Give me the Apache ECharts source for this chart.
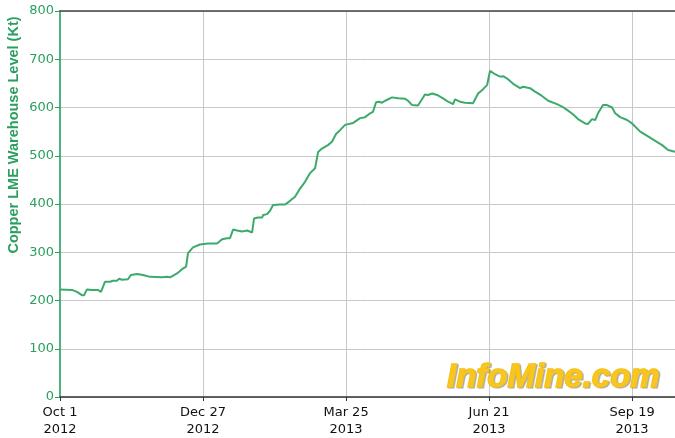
<!DOCTYPE html>
<html lang="en">

<head>
  <meta charset="UTF-8">
  <title>Copper LME Warehouse Level</title>
  <style>
    html, body { margin: 0; padding: 0; background: #fff; }
  </style>
</head>

<body>
  <div id="main" style="width: 675px;height:438px;"></div>
  <script src="https://cdn.jsdelivr.net/npm/echarts@6/dist/echarts.min.js"></script>
  <script>
    // x in trading-day units, a tick every 60
    const days = [0, 5.0, 7.1, 9.2, 10.1, 11.3, 11.7, 13.4, 15.9, 17.2, 18.9, 21.0, 22.2, 23.9, 24.8, 26.0,
      28.5, 29.8, 32.3, 34.8, 37.8, 42.8, 44.9, 46.2, 49.1, 51.2, 52.9, 53.7, 55.8, 58.7, 62.1, 65.9,
      68.0, 70.1, 71.3, 72.6, 74.3, 76.4, 78.5, 80.6, 81.4, 83.1, 84.8, 85.2, 86.9, 88.1, 89.4, 92.3,
      94.4, 96.1, 98.6, 100.7, 102.8, 104.9, 107.0, 108.3, 109.9, 112.4, 114.1, 115.8, 117.5, 119.6,
      123.0, 125.9, 128.0, 130.1, 131.3, 132.6, 133.8, 135.1, 136.4, 139.3, 141.8, 144.8, 146.0, 147.7,
      150.2, 151.0, 153.1, 154.4, 156.1, 158.2, 160.7, 162.8, 164.9, 165.7, 167.8, 169.9, 173.3, 175.4,
      177.5, 179.2, 180.4, 182.5, 184.6, 185.9, 187.6, 190.1, 193.0, 194.3, 197.2, 199.3, 202.2, 204.8,
      208.5, 210.6, 212.7, 215.2, 217.3, 220.3, 221.5, 223.2, 224.5, 225.7, 227.8, 229.5, 231.6, 232.9,
      235.0, 237.9, 240.0, 243.4, 246.7, 249.7, 252.6, 255.1, 258.0];
    const stocks = [223, 222, 218, 211, 211, 223, 220, 222, 222, 218, 239, 239, 241, 241, 245, 243,
      244, 253, 255, 253, 249, 248, 249, 248, 256, 265, 270, 298, 310, 316, 318, 318,
      327, 329, 329, 347, 345, 343, 345, 341, 370, 372, 372, 377, 379, 386, 398, 399,
      399, 405, 415, 432, 446, 464, 474, 508, 515, 522, 529, 545, 553, 564,
      568, 578, 580, 588, 591, 611, 612, 610, 614, 621, 619, 618, 614, 605,
      604, 605, 627, 626, 629, 626, 619, 612, 607, 617, 612, 610, 609, 629,
      638, 647, 676, 669, 664, 665, 660, 649, 640, 643, 640, 633, 624, 614,
      607, 602, 595, 586, 576, 567, 566, 576, 574, 588, 605, 605, 600, 588,
      580, 574, 567, 550, 540, 531, 522, 512, 508];
    const xTicks = [0, 60, 120, 180, 240];
    const xTickLabels = ['Oct 1\n2012', 'Dec 27\n2012', 'Mar 25\n2013', 'Jun 21\n2013', 'Sep 19\n2013'];

    const GREEN = '#2a9f5e';
    const LINE = '#3caa6c';

    const myChart = echarts.init(document.getElementById('main'));

    const option = {
      animation: false,
      grid: { left: 60, right: 0, top: 11, bottom: 41 },
      xAxis: [{
        type: 'value',
        min: 0,
        max: 258,
        interval: 60,
        axisLine: { lineStyle: { color: '#333', width: 1.5 } },
        axisTick: { show: true, length: 4, lineStyle: { color: '#333' } },
        axisLabel: {
          color: '#111',
          fontFamily: 'DejaVu Sans',
          fontSize: 13,
          lineHeight: 17,
          margin: 7,
          showMaxLabel: false,
          formatter: (v) => {
            const i = xTicks.indexOf(v);
            return i >= 0 ? xTickLabels[i] : '';
          }
        },
        splitLine: { show: true, lineStyle: { color: '#c8c8c8', width: 1 } }
      }, {
        type: 'value',
        position: 'top',
        min: 0,
        max: 258,
        axisLine: { show: true, lineStyle: { color: '#444', width: 1.5 } },
        axisTick: { show: false },
        axisLabel: { show: false },
        splitLine: { show: false }
      }],
      yAxis: {
        type: 'value',
        min: 0,
        max: 800,
        interval: 100,
        axisLine: { show: true, lineStyle: { color: '#4cb37a', width: 2 } },
        axisTick: { show: true, length: 5, lineStyle: { color: GREEN } },
        axisLabel: {
          color: GREEN,
          fontFamily: 'DejaVu Sans',
          fontSize: 13,
          margin: 6
        },
        splitLine: { show: true, lineStyle: { color: '#c8c8c8', width: 1 } }
      },
      graphic: [{
        type: 'text',
        rotation: Math.PI / 2,
        x: 14,
        y: 135,
        z: 10,
        style: {
          text: 'Copper LME Warehouse Level (Kt)',
          fill: GREEN,
          font: 'bold 14.5px "Liberation Sans", Arial',
          textAlign: 'center',
          textVerticalAlign: 'middle'
        }
      }, {
        // watermark shadow
        type: 'text',
        x: 448.5,
        y: 362.5,
        z: 99,
        style: {
          text: 'InfoMine.com',
          font: 'italic bold 33px "Liberation Sans", Arial',
          fill: 'rgba(110,110,110,0.4)',
          stroke: 'rgba(110,110,110,0.4)',
          lineWidth: 1.5
        }
      }, {
        type: 'text',
        x: 447,
        y: 361,
        z: 100,
        style: {
          text: 'InfoMine.com',
          font: 'italic bold 33px "Liberation Sans", Arial',
          fill: '#f8c61e',
          stroke: '#f3bd12',
          lineWidth: 1.5
        }
      }],
      series: [{
        type: 'line',
        data: days.map((d, i) => [d, stocks[i]]),
        showSymbol: false,
        lineStyle: { color: LINE, width: 2 },
        z: 5
      }]
    };

    myChart.setOption(option);
  </script>
</body>

</html>
